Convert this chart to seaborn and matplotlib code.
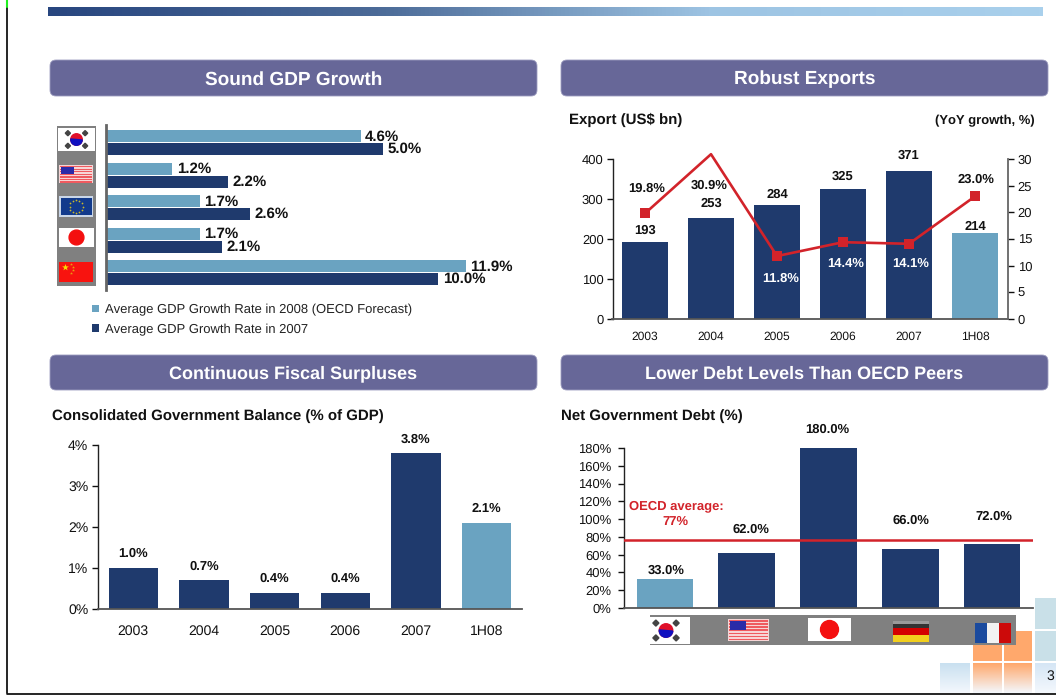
import numpy as np
import pandas as pd
import matplotlib
matplotlib.use('Agg')
import matplotlib.pyplot as plt
from matplotlib.colors import LinearSegmentedColormap
from matplotlib.patches import Circle, FancyBboxPatch, Polygon, Rectangle, Wedge
import seaborn as sns

NAVY = '#1f3a6d'
LIGHT = '#6aa3c1'
RED = '#d2232a'
HEADER = '#676798'
TEXT = '#111111'
W, H = 1056, 695

# GDP growth, the China bars are drawn shortened in the source so lengths and labels differ
gdp_countries = ['Korea', 'US', 'Euro Area', 'Japan', 'China']
gdp_2008_bars = [4.6, 1.2, 1.7, 1.7, 6.5]
gdp_2007_bars = [5.0, 2.2, 2.6, 2.1, 6.0]
gdp_2008_labels = ['4.6%', '1.2%', '1.7%', '1.7%', '11.9%']
gdp_2007_labels = ['5.0%', '2.2%', '2.6%', '2.1%', '10.0%']
gdp_series = ['Average GDP Growth Rate in 2008 (OECD Forecast)', 'Average GDP Growth Rate in 2007']

# Exports
periods = ['2003', '2004', '2005', '2006', '2007', '1H08']
exports = [193, 253, 284, 325, 371, 214]
export_growth = [19.8, 30.9, 11.8, 14.4, 14.1, 23.0]

# Fiscal balance
fiscal_balance = [1.0, 0.7, 0.4, 0.4, 3.8, 2.1]

# Net debt
debt_countries = ['Korea', 'US', 'Japan', 'Germany', 'France']
net_debt = [33, 62, 180, 66, 72]
oecd_average = 77

sns.set_theme(style='white')
plt.rcParams['font.family'] = ['Liberation Sans', 'DejaVu Sans']
plt.rcParams['text.color'] = TEXT
plt.rcParams['xtick.color'] = TEXT
plt.rcParams['ytick.color'] = TEXT
plt.rcParams['text.hinting'] = 'no_hinting'
plt.rcParams['text.hinting_factor'] = 1

fig = plt.figure(figsize=(W / 100, H / 100), dpi=100, facecolor='white')

# pixel coordinate layer for the slide furniture
page = fig.add_axes([0, 0, 1, 1], zorder=0)
page.set_xlim(0, W)
page.set_ylim(H, 0)
page.axis('off')


def axes_px(left, top, right, bottom, zorder=2):
    ax = fig.add_axes([left / W, 1 - bottom / H, (right - left) / W, (bottom - top) / H], zorder=zorder)
    ax.patch.set_alpha(0)
    return ax


def box(ax, x0, y0, x1, y1, color, z=3):
    ax.add_patch(Rectangle((x0, y0), x1 - x0, y1 - y0, facecolor=color, edgecolor='none', zorder=z))


def fade(x0, y0, x1, y1, top, bottom):
    cmap = LinearSegmentedColormap.from_list('fade', [top, bottom])
    page.imshow(np.linspace(0, 1, 64).reshape(-1, 1), extent=(x0, x1, y1, y0), cmap=cmap, aspect='auto', zorder=1)


def flag_korea(x0, y0, x1, y1):
    box(flags, x0, y0, x1, y1, 'white')
    cx, cy = (x0 + x1) / 2, (y0 + y1) / 2
    r = (y1 - y0) * 0.25
    flags.add_patch(Circle((cx, cy), r, color='#e0102a', zorder=4))
    flags.add_patch(Wedge((cx, cy), r, 5, 185, color='#1010c0', zorder=5))
    s = r * 0.45
    for sx in (-1, 1):
        for sy in (-1, 1):
            tx, ty = cx + sx * r * 1.5, cy + sy * r * 1.1
            flags.add_patch(Polygon([(tx - s, ty), (tx, ty - s), (tx + s, ty), (tx, ty + s)], color='#444444', zorder=4))


def flag_us(x0, y0, x1, y1):
    box(flags, x0, y0, x1, y1, '#f6d5d5')
    n = 7
    h = (y1 - y0) / (2 * n)
    for i in range(n):
        box(flags, x0 + 1, y0 + 1 + 2 * i * h, x1 - 1, y0 + 1 + (2 * i + 1) * h, '#ef5a5f', z=4)
    box(flags, x0 + 2, y0 + 2, x0 + (x1 - x0) * 0.45, y0 + (y1 - y0) * 0.5, '#2b2ba8', z=5)


def flag_eu(x0, y0, x1, y1):
    box(flags, x0, y0, x1, y1, '#c9d6e8')
    box(flags, x0 + 2, y0 + 2, x1 - 1, y1 - 2, '#123a8c', z=4)
    cx, cy = (x0 + x1) / 2, (y0 + y1) / 2
    ang = np.arange(12) * np.pi / 6
    flags.scatter(cx + 6.5 * np.cos(ang), cy + 6.5 * np.sin(ang), s=1.6, color='#c9b92a', linewidths=0, zorder=5)


def flag_japan(x0, y0, x1, y1):
    box(flags, x0, y0, x1, y1, 'white')
    flags.add_patch(Circle(((x0 + x1) / 2, (y0 + y1) / 2), (y1 - y0) * 0.39, color='#f40f0f', zorder=4))


def flag_china(x0, y0, x1, y1):
    box(flags, x0, y0, x1, y1, '#f8130f')
    flags.scatter([x0 + 6], [y0 + 5], marker='*', s=26, color='#f8e000', linewidths=0, zorder=4)
    flags.scatter([x0 + 12, x0 + 14, x0 + 14, x0 + 12], [y0 + 2, y0 + 5, y0 + 8, y0 + 11], marker='*', s=5,
                  color='#e8a010', linewidths=0, zorder=4)


def flag_germany(x0, y0, x1, y1):
    h = (y1 - y0) / 3
    box(flags, x0, y0, x1, y0 + h, '#333333')
    box(flags, x0, y0, x1, y0 + 3, '#9a9a9a', z=4)
    box(flags, x0, y0 + h, x1, y0 + 2 * h, '#d40000')
    box(flags, x0, y0 + 2 * h, x1, y1, '#f2cf1d')


def flag_france(x0, y0, x1, y1):
    w = (x1 - x0) / 3
    box(flags, x0, y0, x0 + w, y1, '#1a4a9e')
    box(flags, x0 + w, y0, x0 + 2 * w, y1, '#f2f2f2')
    box(flags, x0 + 2 * w, y0, x1, y1, '#cc0a0a')


def style_axis(ax, pad=3, size=9.2):
    sns.despine(ax=ax, top=True, right=True)
    ax.spines['left'].set_color('#222222')
    ax.spines['left'].set_linewidth(1.0)
    ax.spines['bottom'].set_color('#555555')
    ax.spines['bottom'].set_linewidth(1.3)
    ax.set_xlabel('')
    ax.set_ylabel('')
    ax.tick_params(axis='y', left=True, length=4, width=1, pad=pad, labelsize=size)


def label(ax, x, y, text, dx, dy, color=TEXT):
    ax.annotate(text, xy=(x, y), xytext=(dx, dy), textcoords='offset pixels', ha='center', va='center',
                fontsize=9, fontweight='bold', color=color, annotation_clip=False, zorder=10)


# top gradient bar
bar_cmap = LinearSegmentedColormap.from_list('bar', ['#28467f', '#4c6b98', '#9dc4e3', '#a9d0ec'])
page.imshow(np.linspace(0, 1, 256).reshape(1, -1), extent=(48, 1043, 16, 7), cmap=bar_cmap, aspect='auto', zorder=1)

# slide frame
page.plot([7, 7], [0, 693], color='black', lw=1.2, zorder=6)
page.plot([7, 1056], [693.5, 693.5], color='black', lw=1.2, zorder=6)
page.plot([7, 7], [0, 7], color='#20f020', lw=1.5, zorder=7)

# corner squares
box(page, 1035, 598, 1056, 629, '#c9e0e8', z=1)
box(page, 1035, 631, 1056, 661, '#c9e0e8', z=1)
box(page, 973, 631, 1002, 661, '#ffa86c', z=1)
box(page, 1004, 631, 1032, 661, '#ffa86c', z=1)
fade(940, 663, 970, 693, '#c9e0f0', '#f4f8fd')
fade(973, 663, 1002, 693, '#ffa86c', '#f4f8fd')
fade(1004, 663, 1032, 693, '#ffa86c', '#f4f8fd')
fade(1035, 663, 1056, 693, '#d5e6f5', '#f4f8fd')
page.set_xlim(0, W)
page.set_ylim(H, 0)
page.text(1050, 676, '3', fontsize=10, ha='center', va='center', zorder=6)

# section headers
headers = [(50, 60, 537, 96, 'Sound GDP Growth', 13.7),
           (561, 60, 1048, 96, 'Robust Exports', 13.7),
           (50, 355, 537, 390, 'Continuous Fiscal Surpluses', 12.7),
           (561, 355, 1048, 390, 'Lower Debt Levels Than OECD Peers', 12.7)]
for x0, y0, x1, y1, title, size in headers:
    page.add_patch(FancyBboxPatch((x0 + 4, y0 + 4), x1 - x0 - 8, y1 - y0 - 8, boxstyle='round,pad=4,rounding_size=6',
                                  facecolor=HEADER, edgecolor='#9d9dc0', lw=0.6, zorder=2))
    page.text((x0 + x1) / 2, (y0 + y1) / 2 + 1.5, title, color='white', fontsize=size, fontweight='bold',
              ha='center', va='center', zorder=3)

page.text(569, 120, 'Export (US$ bn)', fontsize=10.5, fontweight='bold', va='center')
page.text(1035, 121, '(YoY growth, %)', fontsize=9.7, fontweight='bold', va='center', ha='right')
page.text(52, 416, 'Consolidated Government Balance (% of GDP)', fontsize=10.5, fontweight='bold', va='center')
page.text(561, 416, 'Net Government Debt (%)', fontsize=10.5, fontweight='bold', va='center')

# --- GDP growth ---
gdp = pd.DataFrame({
    'country': gdp_countries * 2,
    'growth': gdp_2008_bars + gdp_2007_bars,
    'series': [gdp_series[0]] * 5 + [gdp_series[1]] * 5,
})
ax1 = axes_px(106, 126.5, 520, 289)
sns.barplot(data=gdp, y='country', x='growth', hue='series', palette=[LIGHT, NAVY], saturation=1, width=0.77,
            gap=0.04, linewidth=0, ax=ax1)
ax1.set_xlim(0, 414 / 55.4)
ax1.set_xlabel('')
ax1.set_ylabel('')
ax1.set_xticks([])
ax1.set_yticks([])
sns.despine(ax=ax1, top=True, right=True, bottom=True)
ax1.spines['left'].set_color('#666666')
ax1.spines['left'].set_linewidth(2)
ax1.spines['left'].set_bounds(4.54, -0.54)
for bars, texts in zip(ax1.containers, [gdp_2008_labels, gdp_2007_labels]):
    ax1.bar_label(bars, labels=texts, padding=3, fontsize=10.6, fontweight='bold', color=TEXT)
handles, names = ax1.get_legend_handles_labels()
ax1.legend(handles, names, loc='upper left', bbox_to_anchor=(92 / W, 1 - 304 / H), bbox_transform=fig.transFigure,
           frameon=False, fontsize=9.65, handlelength=0.5, handleheight=0.5, handletextpad=0.5, labelspacing=0.55,
           borderaxespad=0, borderpad=0, labelcolor='#222222')

# --- Exports ---
ax2 = axes_px(612, 159, 1008, 319)
sns.barplot(x=periods, y=exports, hue=periods, palette=[NAVY] * 5 + [LIGHT], saturation=1, width=0.7, linewidth=0,
            legend=False, ax=ax2)
ax2.set_ylim(0, 400)
ax2.set_yticks(range(0, 401, 100))
style_axis(ax2, pad=3)
ax2.tick_params(axis='x', bottom=False, length=0, pad=9, labelsize=8.9)
ax2.spines['left'].set_position(('outward', -1))
export_dy = [11, 14, 11, 13, 15, 7]
for i, val in enumerate(exports):
    label(ax2, i, val, str(val), 0, export_dy[i])

ax2b = axes_px(612, 159, 1008, 319, zorder=3)
sns.lineplot(x=np.arange(len(periods)), y=export_growth, color=RED, linewidth=1.9, marker='s', markersize=6.5,
             markeredgewidth=0, ax=ax2b, clip_on=False)
ax2b.lines[0].set_markevery([0, 2, 3, 4, 5])
ax2b.set_xlim(ax2.get_xlim())
ax2b.set_ylim(0, 30)
ax2b.set_yticks(range(0, 31, 5))
ax2b.set_xticks([])
ax2b.yaxis.tick_right()
for side in ['top', 'left', 'bottom']:
    ax2b.spines[side].set_visible(False)
ax2b.spines['right'].set_visible(True)
ax2b.spines['right'].set_color('#666666')
ax2b.spines['right'].set_linewidth(1.3)
ax2b.tick_params(axis='y', right=True, left=False, length=4, width=1, pad=3, labelsize=9.2)
growth_dx = [2, -2, 4, 3, 2, 1]
growth_dy = [25, -31, -22, -21, -20, 17]
growth_color = [TEXT, TEXT, 'white', 'white', 'white', TEXT]
for i, val in enumerate(export_growth):
    label(ax2b, i, val, f'{val:.1f}%', growth_dx[i], growth_dy[i], color=growth_color[i])

# --- Fiscal balance ---
ax3 = axes_px(98, 445, 522, 609)
sns.barplot(x=periods, y=fiscal_balance, hue=periods, palette=[NAVY] * 5 + [LIGHT], saturation=1, width=0.7, linewidth=0,
            legend=False, ax=ax3)
ax3.set_ylim(0, 4)
ax3.set_yticks(range(5))
ax3.set_yticklabels([f'{v}%' for v in range(5)])
style_axis(ax3, pad=3, size=10)
ax3.tick_params(axis='x', bottom=False, length=0, pad=11, labelsize=10.2)
for i, val in enumerate(fiscal_balance):
    label(ax3, i, val, f'{val:.1f}%', 0, 14)

# --- Net debt ---
ax4 = axes_px(624, 448, 1033, 608)
sns.barplot(x=debt_countries, y=net_debt, hue=debt_countries, palette=[LIGHT] + [NAVY] * 4, saturation=1, width=0.69,
            linewidth=0, legend=False, ax=ax4)
ax4.set_ylim(0, 180)
ax4.set_yticks(range(0, 181, 20))
ax4.set_yticklabels([f'{v}%' for v in range(0, 181, 20)])
style_axis(ax4, pad=5, size=9.4)
ax4.tick_params(axis='x', bottom=False, labelbottom=False)
ax4.axhline(oecd_average, color=RED, lw=1.8, zorder=5)
debt_dx = [1, 4, -1, 1, 2]
debt_dy = [8, 23, 18, 29, 27]
for i, val in enumerate(net_debt):
    label(ax4, i, val, f'{val:.1f}%', debt_dx[i], debt_dy[i])
ax4.annotate(f'OECD average:\n{oecd_average}%', xy=(0, oecd_average), xytext=(11, 26), textcoords='offset pixels',
             ha='center', va='center', color=RED, fontsize=9.4, fontweight='bold', linespacing=1.35, zorder=10)

# --- flags, on their own layer above the charts ---
flags = axes_px(0, 0, W, H, zorder=4)
flags.set_xlim(0, W)
flags.set_ylim(H, 0)
flags.axis('off')
box(flags, 57, 126, 96, 286, '#808080', z=2)
flag_korea(58, 128, 95, 151)
flag_us(59, 165, 93, 183)
flag_eu(59, 196, 93, 217)
flag_japan(59, 228, 94, 247)
flag_china(59, 262, 93, 282)
box(flags, 650, 615, 1016, 645, '#808080', z=2)
box(flags, 650, 617, 690, 644, 'white')
flag_korea(650, 617, 682, 644)
flag_us(728, 619, 769, 641)
flag_japan(808, 618, 851, 641)
flag_germany(893, 621, 929, 642)
flag_france(975, 623, 1011, 643)

plt.savefig('out.png', dpi=100)
plt.close()
